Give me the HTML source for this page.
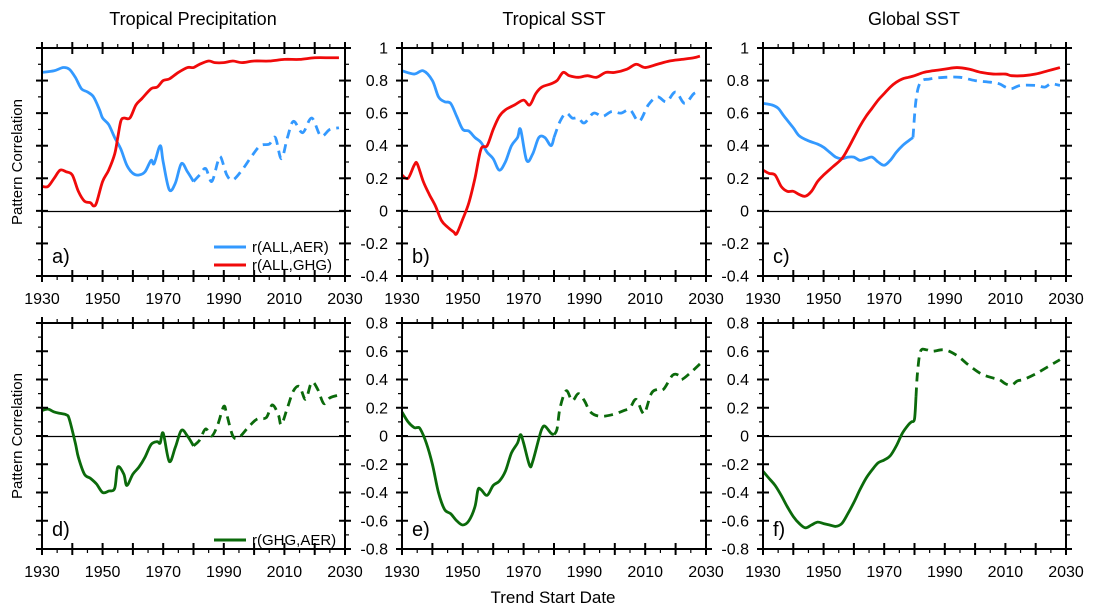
<!DOCTYPE html>
<html><head><meta charset="utf-8"><style>
body{margin:0;background:#fff;}
svg{display:block;font-family:"Liberation Sans",sans-serif;}
</style></head><body>
<svg id="c" width="1093" height="615" viewBox="0 0 1093 615"></svg>
<script>
// ---- data ----
const aBlueYears=[1930,1934,1937,1939,1941,1943,1945,1947,1949,1950,1952,1954,1956,1958,1960,1962,1964,1966,1967,1969,1970,1972,1974,1976,1978,1980,1982,1984,1986,1988,1989,1991,1993,1996,1999,2002,2005,2007,2009,2011,2013,2016,2019,2022,2025,2028];
const aBlueVals=[.85,.86,.88,.87,.82,.75,.73,.70,.62,.57,.53,.45,.38,.28,.23,.22,.24,.31,.29,.40,.30,.13,.17,.29,.24,.18,.22,.26,.18,.30,.33,.22,.19,.25,.33,.40,.41,.45,.32,.45,.55,.48,.57,.46,.50,.51];
const aRedYears=[1930,1932,1934,1936,1938,1940,1942,1944,1946,1947,1948,1950,1952,1954,1955,1956,1957,1959,1961,1963,1966,1968,1970,1972,1975,1978,1980,1982,1985,1987,1990,1993,1996,2000,2005,2010,2015,2020,2025,2028];
const aRedVals=[.15,.15,.20,.25,.24,.22,.12,.06,.05,.03,.05,.18,.25,.35,.45,.55,.57,.57,.65,.69,.75,.76,.80,.81,.85,.88,.88,.90,.92,.91,.91,.92,.91,.92,.92,.93,.93,.94,.94,.94];
const bBlueYears=[1930,1934,1937,1940,1942,1944,1946,1948,1950,1952,1954,1956,1958,1960,1962,1964,1966,1968,1969,1971,1973,1975,1977,1979,1980,1982,1984,1986,1988,1990,1993,1996,1999,2002,2005,2008,2011,2014,2017,2020,2023,2026,2028];
const bBlueVals=[.86,.84,.86,.80,.70,.67,.66,.58,.50,.49,.45,.42,.36,.32,.25,.30,.40,.45,.50,.31,.35,.45,.45,.40,.45,.55,.60,.57,.57,.54,.60,.58,.61,.60,.62,.55,.65,.70,.67,.73,.66,.72,.73];
const bRedYears=[1930,1932,1934,1935,1937,1939,1941,1943,1945,1947,1948,1950,1952,1954,1956,1958,1960,1962,1964,1967,1970,1972,1974,1976,1979,1981,1983,1985,1988,1991,1994,1997,2000,2004,2007,2010,2014,2018,2022,2026,2028];
const bRedVals=[.22,.20,.28,.29,.18,.10,.03,-.06,-.10,-.13,-.14,-.05,.05,.20,.38,.40,.50,.58,.62,.65,.68,.65,.72,.76,.78,.80,.85,.83,.82,.83,.82,.85,.85,.87,.90,.88,.90,.92,.93,.94,.95];
const cBlueYears=[1930,1933,1935,1937,1940,1942,1945,1948,1950,1952,1954,1956,1958,1960,1962,1964,1966,1968,1970,1972,1974,1976,1978,1979.5,1980.5,1982,1985,1990,1995,2000,2005,2008,2010,2012,2015,2020,2023,2025,2028];
const cBlueVals=[.66,.65,.63,.58,.51,.46,.43,.41,.39,.36,.33,.32,.33,.33,.31,.32,.33,.30,.28,.31,.36,.40,.43,.45,.68,.79,.81,.82,.82,.80,.79,.78,.76,.75,.77,.77,.76,.78,.77];
const cRedYears=[1930,1932,1934,1936,1938,1940,1942,1944,1946,1948,1950,1953,1956,1958,1960,1962,1964,1966,1968,1970,1972,1974,1976,1978,1980,1983,1986,1990,1994,1998,2002,2006,2010,2012,2016,2020,2024,2028];
const cRedVals=[.25,.23,.22,.15,.12,.12,.10,.09,.12,.18,.22,.27,.32,.38,.45,.52,.58,.63,.68,.72,.76,.79,.81,.82,.83,.85,.86,.87,.88,.87,.85,.84,.84,.83,.83,.84,.86,.88];
const dYears=[1930,1932,1934,1936,1938,1939,1941,1942,1944,1946,1948,1950,1952,1954,1955,1957,1958,1960,1962,1964,1966,1968,1969,1970,1972,1974,1976,1978,1980,1982,1984,1986,1988,1990,1991,1993,1995,1998,2001,2004,2006,2008,2009,2011,2013,2015,2017,2019,2021,2023,2025,2028];
const dVals=[.18,.19,.17,.16,.15,.12,-.05,-.15,-.27,-.30,-.34,-.40,-.39,-.37,-.22,-.27,-.35,-.27,-.22,-.15,-.06,-.04,-.05,.02,-.18,-.08,.04,.0,-.07,-.03,.05,.0,.08,.21,.15,.0,-.01,.06,.12,.13,.22,.15,.08,.2,.32,.35,.26,.38,.33,.23,.27,.29];
const eYears=[1930,1932,1934,1935,1936,1938,1940,1942,1944,1946,1948,1950,1952,1954,1955,1956,1958,1960,1962,1964,1966,1968,1969,1970,1972,1973,1975,1976,1977,1979,1980,1981,1982,1984,1986,1988,1990,1992,1995,1999,2003,2005,2007,2009,2010,2012,2014,2016,2019,2021,2022,2025,2028];
const eVals=[.17,.10,.06,.06,.05,-.05,-.20,-.40,-.52,-.55,-.60,-.63,-.60,-.50,-.38,-.38,-.42,-.35,-.32,-.25,-.12,-.05,.01,-.05,-.21,-.18,-.02,.05,.07,.02,.01,.05,.2,.32,.25,.30,.25,.17,.14,.15,.18,.20,.26,.17,.17,.30,.33,.33,.43,.43,.40,.45,.51];
const fYears=[1930,1932,1934,1936,1938,1940,1942,1944,1946,1948,1950,1952,1954,1956,1958,1960,1962,1964,1966,1968,1970,1972,1974,1976,1978,1979,1980,1980.5,1981,1982,1984,1986,1990,1994,1998,2002,2006,2008,2010,2012,2014,2016,2020,2024,2028];
const fVals=[-.25,-.30,-.35,-.42,-.50,-.57,-.62,-.65,-.63,-.61,-.62,-.63,-.64,-.62,-.55,-.47,-.38,-.30,-.24,-.19,-.17,-.14,-.07,.02,.08,.10,.12,.28,.45,.60,.61,.60,.61,.57,.50,.44,.41,.40,.37,.36,.39,.40,.44,.49,.54];
const xTicks=[1930,1950,1970,1990,2010,2030];
const yTicksTop=[-0.4,-0.2,0,0.2,0.4,0.6,0.8,1];
const yTicksBot=[-0.8,-0.6,-0.4,-0.2,0,0.2,0.4,0.6,0.8];
const yLabelsTop=["-0.4","-0.2","0","0.2","0.4","0.6","0.8","1"];
const yLabelsBot=["-0.8","-0.6","-0.4","-0.2","0","0.2","0.4","0.6","0.8"];

const NS="http://www.w3.org/2000/svg";
const svg=document.getElementById('c');
function el(t,a,p){const e=document.createElementNS(NS,t);for(const k in a)e.setAttribute(k,a[k]);(p||svg).appendChild(e);return e;}
function txt(s,a,p){const e=el('text',a,p);e.textContent=s;return e;}
function smooth(pts){
  let d=`M${pts[0][0]},${pts[0][1]}`;
  for(let i=0;i<pts.length-1;i++){
    const p0=pts[i-1]||pts[i],p1=pts[i],p2=pts[i+1],p3=pts[i+2]||p2;
    const c1=[p1[0]+(p2[0]-p0[0])/6,p1[1]+(p2[1]-p0[1])/6];
    const c2=[p2[0]-(p3[0]-p1[0])/6,p2[1]-(p3[1]-p1[1])/6];
    d+=` C${c1[0]},${c1[1]} ${c2[0]},${c2[1]} ${p2[0]},${p2[1]}`;
  }
  return d;
}

const cols=[[42,345],[402,706],[763,1066]];
const rows=[[48,276,-0.4,1],[323,549,-0.8,0.8]];
const BLUE="#3399ff",RED="#f00a0a",GREEN="#0b6a0b";

function panel(ci,ri,label,series,showY,name){
  const [x0,x1]=cols[ci],[y0,y1,vmin,vmax]=rows[ri];
  const g=el('g',{});
  
  
  const X=yr=>x0+(yr-1930)/100*(x1-x0);
  const Y=v=>y1-(v-vmin)/(vmax-vmin)*(y1-y0);
  const zy=Math.round(Y(0))+0.5;
  const zl=el('line',{x1:x0,x2:x1,y1:zy,y2:zy,stroke:'#000','stroke-width':1.2},g);
  
  series.forEach(s=>{
    const sol=[],das=[];
    s.years.forEach((yr,i)=>{
      if(!s.split||yr<=s.split)sol.push([X(yr),Y(s.vals[i])]);
      if(s.split&&yr>=s.split)das.push([X(yr),Y(s.vals[i])]);
    });
    if(s.split){
      const i=s.years.findIndex(yr=>yr>s.split);
      if(i>0&&s.years[i-1]<s.split){das.unshift([X(s.years[i-1]),Y(s.vals[i-1])]);}
    }
    [[sol,''],[das,'9,6']].forEach(([pts,d])=>{
      if(pts.length<2)return;
      const p=el('path',{d:smooth(pts),fill:'none',stroke:s.color,'stroke-width':2.8,'stroke-linejoin':'round','stroke-linecap':'butt'},g);
      if(d)p.setAttribute('stroke-dasharray',d);
      
      
    });
  });
  const fr=el('rect',{x:x0,y:y0,width:x1-x0,height:y1-y0,fill:'none',stroke:'#000','stroke-width':2},g);
  
  for(let yr=1930;yr<=2030;yr+=5){
    const maj=yr%10===0,x=X(yr);
    [y0,y1].forEach((yy,k)=>{
      const dir=k===0?-1:1;
      el('line',{x1:x,x2:x,y1:maj?yy-6:yy,y2:maj?yy+6:yy+dir*4,stroke:'#000','stroke-width':maj?2:1.2},g);
    });
  }
  xTicks.forEach(yr=>{
    const t=txt(String(yr),{x:X(yr),y:y1+28,'font-size':16,'text-anchor':'middle'},g);
    
  });
  const ticks=ri===0?yTicksTop:yTicksBot,labels=ri===0?yLabelsTop:yLabelsBot;
  for(let v=vmin;v<=vmax+1e-6;v+=0.1){
    const yy=Y(v),maj=Math.abs(Math.round(v*10))%2===(Math.abs(Math.round(vmin*10))%2);
    [x0,x1].forEach((xx,k)=>{
      const dir=k===0?-1:1;
      el('line',{y1:yy,y2:yy,x1:maj?xx-6:xx,x2:maj?xx+6:xx+dir*4,stroke:'#000','stroke-width':maj?2:1.2},g);
    });
  }
  if(showY)ticks.forEach((v,i)=>{
    const t=txt(labels[i],{x:x0-14,y:Y(v)+5.5,'font-size':16,'text-anchor':'end'},g);
    
  });
  const pl=txt(label,{x:x0+10,y:y1-13,'font-size':20},g);
  
}

panel(0,0,'a)',[{years:aBlueYears,vals:aBlueVals,color:BLUE,split:1980,name:'aer-line'},{years:aRedYears,vals:aRedVals,color:RED,name:'ghg-line'}],false,'panel-a');
panel(1,0,'b)',[{years:bBlueYears,vals:bBlueVals,color:BLUE,split:1980,name:'aer-line'},{years:bRedYears,vals:bRedVals,color:RED,name:'ghg-line'}],true,'panel-b');
panel(2,0,'c)',[{years:cBlueYears,vals:cBlueVals,color:BLUE,split:1979.5,name:'aer-line'},{years:cRedYears,vals:cRedVals,color:RED,name:'ghg-line'}],true,'panel-c');
panel(0,1,'d)',[{years:dYears,vals:dVals,color:GREEN,split:1980,name:'ghg-aer-line'}],false,'panel-d');
panel(1,1,'e)',[{years:eYears,vals:eVals,color:GREEN,split:1980,name:'ghg-aer-line'}],true,'panel-e');
panel(2,1,'f)',[{years:fYears,vals:fVals,color:GREEN,split:1980.5,name:'ghg-aer-line'}],true,'panel-f');

[['Tropical Precipitation',193,'title-tropical-precipitation'],['Tropical SST',554,'title-tropical-sst'],['Global SST',914,'title-global-sst']].forEach(([s,x,n])=>{
  const t=txt(s,{x:x,y:25,'font-size':18,'text-anchor':'middle'});
  
});
const xt=txt('Trend Start Date',{x:553,y:603,'font-size':17,'text-anchor':'middle'});

[[162],[436]].forEach(([cy])=>{
  const t=txt('Pattern Correlation',{x:0,y:0,'font-size':15,'text-anchor':'middle',transform:`translate(22,${cy}) rotate(-90)`});
  
});
[[247,BLUE,'r(ALL,AER)'],[265,RED,'r(ALL,GHG)'],[540,GREEN,'r(GHG,AER)']].forEach(([y,c,s])=>{
  const l=el('line',{x1:214,x2:246,y1:y,y2:y,stroke:c,'stroke-width':3});
  
  const t=txt(s,{x:252,y:y+5,'font-size':15});
  
});
</script>
</body></html>
